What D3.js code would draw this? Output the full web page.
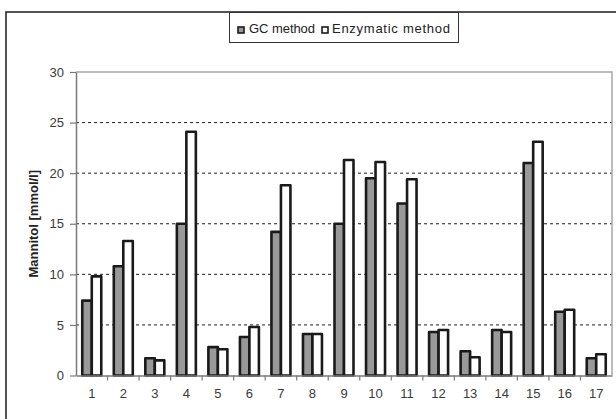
<!DOCTYPE html>
<html>
<head>
<meta charset="utf-8">
<script src="https://cdn.jsdelivr.net/npm/d3@7"></script>
<style>
  html, body { margin: 0; padding: 0; background: #fff; }
  svg { display: block; font-family: "Liberation Sans", Arial, sans-serif; }
</style>
</head>
<body>
<svg id="chart" width="616" height="419"></svg>
<script>
// Mannitol concentration per sample, measured by two methods
const samples = ["1","2","3","4","5","6","7","8","9","10","11","12","13","14","15","16","17"];
const gcMethod = [7.4, 10.8, 1.7, 15.0, 2.8, 3.8, 14.2, 4.1, 15.0, 19.5, 17.0, 4.3, 2.4, 4.5, 21.0, 6.3, 1.7];
const enzymaticMethod = [9.8, 13.3, 1.5, 24.1, 2.6, 4.8, 18.8, 4.1, 21.3, 21.1, 19.4, 4.5, 1.8, 4.3, 23.1, 6.5, 2.1];
const seriesNames = ["GC method", "Enzymatic method"];
const seriesFills = ["#999999", "#ffffff"];
const yTicks = [0, 5, 10, 15, 20, 25, 30];

const svg = d3.select("#chart");
const plot = { left: 76, right: 612, top: 72, bottom: 375.5 };
const fontFamily = "'Liberation Sans', Arial, sans-serif";

// outer chart frame
svg.append("rect")
  .attr("x", 6).attr("y", 12).attr("width", 640).attr("height", 440)
  .attr("fill", "none").attr("stroke", "#1a1a1a").attr("stroke-width", 1.5);

const x = d3.scaleBand().domain(samples).range([plot.left, plot.right]).paddingInner(0).paddingOuter(0);
const inner = d3.scaleBand().domain(seriesNames).range([0, x.bandwidth()]).paddingInner(0).paddingOuter(0.66);
const y = d3.scaleLinear().domain([0, 30]).range([plot.bottom, plot.top]);

// dashed gridlines
svg.append("g").selectAll("line")
  .data(yTicks.filter(t => t > 0 && t < 30))
  .join("line")
  .attr("x1", plot.left).attr("x2", plot.right)
  .attr("y1", d => y(d)).attr("y2", d => y(d))
  .attr("stroke", "#1e1e1e").attr("stroke-width", 1)
  .attr("stroke-dasharray", "3,3");

// plot area border (top and right)
svg.append("path")
  .attr("d", `M${plot.left},${y(30)}H${plot.right}V${plot.bottom}`)
  .attr("fill", "none").attr("stroke", "#a6a6a6").attr("stroke-width", 1.5);

// bars
const rows = samples.map((s, i) => ({ sample: s, values: [gcMethod[i], enzymaticMethod[i]] }));
const groups = svg.append("g").selectAll("g")
  .data(rows).join("g")
  .attr("transform", d => `translate(${x(d.sample)},0)`);
groups.selectAll("rect")
  .data(d => d.values.map((v, k) => ({ name: seriesNames[k], value: v, k })))
  .join("rect")
  .attr("x", d => inner(d.name))
  .attr("width", inner.bandwidth())
  .attr("y", d => y(d.value))
  .attr("height", d => y(0) - y(d.value))
  .attr("fill", d => seriesFills[d.k])
  .attr("stroke", "#1a1a1a").attr("stroke-width", 2.6)
  .attr("stroke-linejoin", "round");

// y axis
const yAxis = svg.append("g")
  .attr("transform", `translate(${plot.left},0)`)
  .call(d3.axisLeft(y).tickValues(yTicks).tickSize(6).tickSizeOuter(0).tickPadding(6));
yAxis.select(".domain").attr("stroke", "#7a7a7a").attr("stroke-width", 1.5);
yAxis.selectAll(".tick line").attr("stroke", "#7a7a7a").attr("stroke-width", 1.2);
yAxis.selectAll(".tick text").attr("font-size", 13).attr("fill", "#3a3a3a")
  .attr("font-family", fontFamily);

// x axis: labels centred on each sample, tick marks between samples
const xAxis = svg.append("g")
  .attr("transform", `translate(0,${plot.bottom})`)
  .call(d3.axisBottom(x).tickSize(0).tickPadding(13));
xAxis.select(".domain").attr("stroke", "#7a7a7a").attr("stroke-width", 1.5);
xAxis.selectAll(".tick text").attr("font-size", 13).attr("fill", "#3a3a3a")
  .attr("font-family", fontFamily);
xAxis.append("g").selectAll("line")
  .data(samples.slice(1))
  .join("line")
  .attr("x1", d => x(d)).attr("x2", d => x(d))
  .attr("y1", 0).attr("y2", 5)
  .attr("stroke", "#7a7a7a").attr("stroke-width", 1.2);

// y axis title
svg.append("text")
  .attr("transform", `translate(38,${(plot.top + plot.bottom) / 2}) rotate(-90)`)
  .attr("text-anchor", "middle")
  .attr("font-family", fontFamily)
  .attr("font-size", 13).attr("font-weight", "bold").attr("fill", "#222")
  .text("Mannitol [mmol/l]");

// legend
const legend = svg.append("g");
legend.append("rect")
  .attr("x", 229.5).attr("y", 12.5).attr("width", 229).attr("height", 30)
  .attr("fill", "#fff").attr("stroke", "#333").attr("stroke-width", 1);
const legendItems = [
  { name: seriesNames[0], fill: seriesFills[0], sx: 238, tx: 249, len: 66 },
  { name: seriesNames[1], fill: seriesFills[1], sx: 322, tx: 332, len: 118 }
];
legendItems.forEach(it => {
  legend.append("rect")
    .attr("x", it.sx).attr("y", 27).attr("width", 6).attr("height", 6)
    .attr("fill", it.fill).attr("stroke", "#1a1a1a").attr("stroke-width", 1.6);
  legend.append("text")
    .attr("x", it.tx).attr("y", 32.5)
    .attr("font-family", fontFamily)
    .attr("font-size", 13).attr("fill", "#222")
    .attr("textLength", it.len).attr("lengthAdjust", "spacing")
    .text(it.name);
});
</script>
</body>
</html>
